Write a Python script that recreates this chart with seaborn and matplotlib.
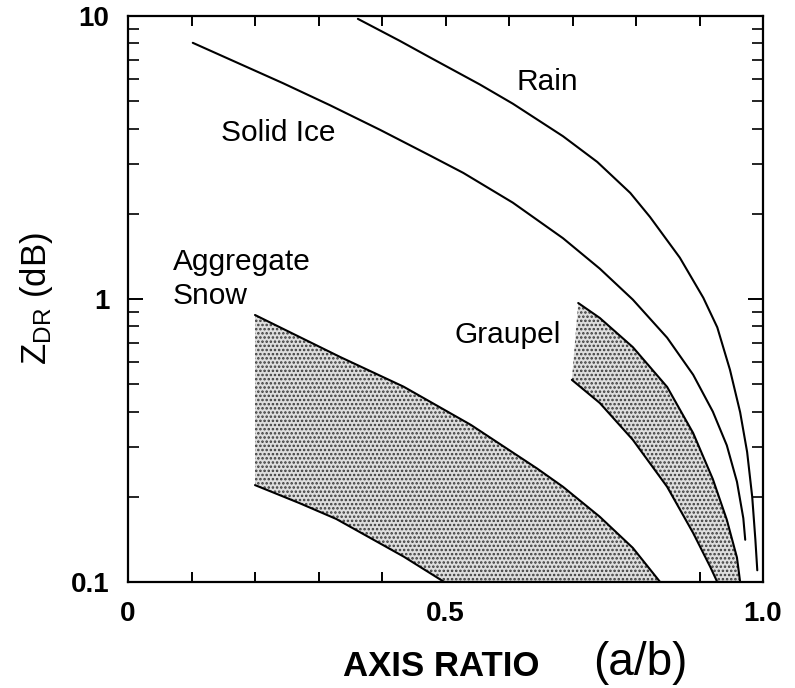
import numpy as np
import pandas as pd
import matplotlib
matplotlib.use("Agg")
import matplotlib.pyplot as plt
import matplotlib.ticker as mticker
import seaborn as sns

# ---------------- data ----------------
rain_x = [0.362, 0.428, 0.476, 0.554, 0.606, 0.685, 0.739, 0.791, 0.822, 0.869,
          0.906, 0.928, 0.948, 0.964, 0.975, 0.983, 0.988, 0.991]
rain_y = [9.77, 8.17, 7.13, 5.73, 4.90, 3.76, 3.05, 2.37, 1.95, 1.40,
          1.01, 0.794, 0.562, 0.398, 0.288, 0.200, 0.141, 0.110]

ice_x = [0.102, 0.244, 0.318, 0.397, 0.476, 0.528, 0.606, 0.685, 0.743, 0.795,
         0.849, 0.890, 0.921, 0.943, 0.959, 0.969, 0.972]
ice_y = [8.04, 5.79, 4.84, 3.96, 3.21, 2.79, 2.19, 1.64, 1.28, 0.995,
         0.730, 0.540, 0.400, 0.304, 0.226, 0.168, 0.141]

agg_upper_x = [0.200, 0.334, 0.434, 0.540, 0.644, 0.685, 0.743, 0.795, 0.838]
agg_upper_y = [0.878, 0.624, 0.490, 0.359, 0.252, 0.217, 0.170, 0.132, 0.100]
agg_lower_x = [0.200, 0.270, 0.328, 0.434, 0.498]
agg_lower_y = [0.220, 0.190, 0.167, 0.123, 0.100]

gra_upper_x = [0.709, 0.743, 0.795, 0.849, 0.890, 0.921, 0.943, 0.959, 0.964]
gra_upper_y = [0.968, 0.857, 0.676, 0.489, 0.336, 0.231, 0.166, 0.122, 0.100]
gra_lower_x = [0.699, 0.743, 0.795, 0.849, 0.890, 0.917, 0.928]
gra_lower_y = [0.518, 0.429, 0.318, 0.217, 0.149, 0.113, 0.100]

labels = ["Rain", "Solid Ice", "Aggregate", "Snow", "Graupel"]
label_x = [0.661, 0.236, 0.071, 0.071, 0.598]
label_y = [5.85, 3.86, 1.265, 0.959, 0.746]

x_ticks = [0.0, 0.5, 1.0]
x_ticklabels = ["0", "0.5", "1.0"]
y_ticks = [0.1, 1, 10]
y_ticklabels = ["0.1", "1", "10"]

# ---------------- style ----------------
sns.set_style("ticks")
plt.rcParams["font.family"] = ["Liberation Sans", "DejaVu Sans"]
plt.rcParams["mathtext.default"] = "regular"
plt.rcParams["text.color"] = "black"
plt.rcParams["axes.labelcolor"] = "black"
plt.rcParams["xtick.color"] = "black"
plt.rcParams["ytick.color"] = "black"
plt.rcParams["hatch.linewidth"] = 1.2

fig = plt.figure(figsize=(7.95, 6.88), dpi=100)
ax = fig.add_axes([128 / 795, 1 - 582 / 688, 635 / 795, 566 / 688])

# shaded regions (polygon = upper boundary then lower boundary reversed)
shade_kw = dict(facecolor="#dedede", edgecolor="#3a3a3a", linewidth=0, hatch="....", zorder=1)
ax.fill(agg_upper_x + agg_lower_x[::-1], agg_upper_y + agg_lower_y[::-1], **shade_kw)
ax.fill(gra_upper_x + gra_lower_x[::-1], gra_upper_y + gra_lower_y[::-1], **shade_kw)

line_kw = dict(color="black", linewidth=1.5, sort=False, estimator=None, ax=ax, zorder=3)
for xs, ys in [(rain_x, rain_y), (ice_x, ice_y),
               (agg_upper_x, agg_upper_y), (agg_lower_x, agg_lower_y),
               (gra_upper_x, gra_upper_y), (gra_lower_x, gra_lower_y)]:
    sns.lineplot(x=xs, y=ys, **line_kw)

ax.set_yscale("log")
ax.set_xlim(0, 1.0)
ax.set_ylim(0.1, 10)

# ticks
ax.set_xticks(x_ticks)
ax.set_xticklabels(x_ticklabels, fontsize=20, fontweight="bold")
ax.xaxis.set_minor_locator(mticker.MultipleLocator(0.1))
ax.set_yticks(y_ticks)
ax.set_yticklabels(y_ticklabels, fontsize=20, fontweight="bold")
ax.yaxis.set_minor_locator(mticker.LogLocator(base=10, subs=np.arange(2, 10)))
ax.yaxis.set_minor_formatter(mticker.NullFormatter())
ax.tick_params(axis="x", which="both", direction="in", top=True, bottom=True,
               length=7, width=1.4, pad=13.5)
ax.tick_params(axis="y", which="major", direction="in", left=True, right=True,
               length=11, width=1.4, pad=13.5)
ax.tick_params(axis="y", which="minor", direction="in", left=True, right=True,
               length=8, width=1.2)
for s in ax.spines.values():
    s.set_linewidth(1.6)
    s.set_color("black")

# labels
ax.set_xlabel("AXIS RATIO", fontsize=25, fontweight="bold")
ax.xaxis.set_label_coords((441 - 128) / 635, (582 - 676) / 566)
ax.xaxis.label.set_va("baseline")
ax.text((593 - 128) / 635, (582 - 675) / 566, "(a/b)", transform=ax.transAxes,
        fontsize=33, ha="left", va="baseline", clip_on=False)

ax.set_ylabel(r"$\mathregular{Z_{DR}}$ (dB)", fontsize=25)
ax.yaxis.set_label_coords((37 - 128) / 635, 0.5)
ax.yaxis.label.set_va("center")

# in-plot annotations
for txt, tx, ty in zip(labels, label_x, label_y):
    if txt in ("Aggregate", "Snow"):
        ax.text(tx, ty, txt, fontsize=21.5, ha="left", va="baseline", zorder=4)
    else:
        ax.text(tx, ty, txt, fontsize=21.5, ha="center", va="center", zorder=4)

fig.savefig("out.png", dpi=100, facecolor="white")
